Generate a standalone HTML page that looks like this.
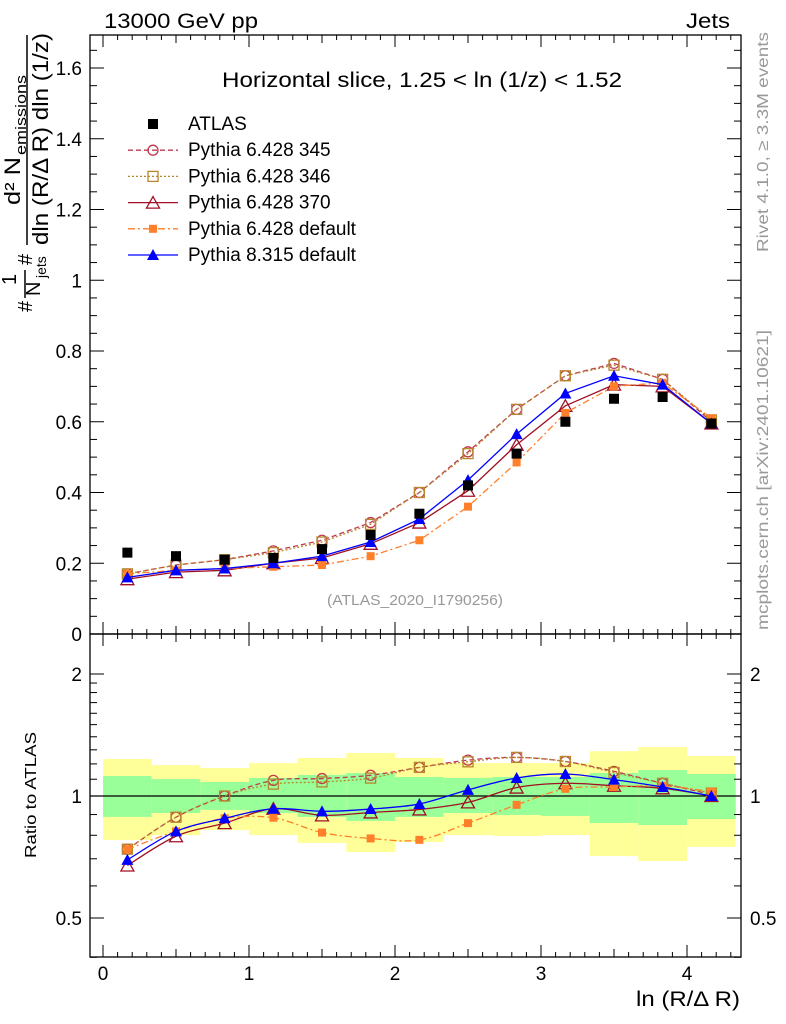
<!DOCTYPE html>
<html><head><meta charset="utf-8"><style>
body{margin:0;background:#fff}
svg{display:block;font-family:"Liberation Sans",sans-serif}
</style></head><body>
<svg id="chart" width="786" height="1024" viewBox="0 0 786 1024" xmlns="http://www.w3.org/2000/svg">
<g id="bands"></g>
<g id="marks"></g>
<g id="axes"></g>
<text x="104" y="28" font-size="21" textLength="154" lengthAdjust="spacingAndGlyphs">13000 GeV pp</text>
<text x="686" y="28" font-size="21" textLength="44" lengthAdjust="spacingAndGlyphs">Jets</text>
<text x="222" y="87" font-size="21" textLength="400" lengthAdjust="spacingAndGlyphs">Horizontal slice, 1.25 &lt; ln (1/z) &lt; 1.52</text>
<text x="327" y="605" font-size="15" fill="#999" textLength="176" lengthAdjust="spacingAndGlyphs">(ATLAS_2020_I1790256)</text>
<text transform="translate(768,252) rotate(-90)" font-size="16" fill="#999" textLength="220" lengthAdjust="spacingAndGlyphs">Rivet 4.1.0, ≥ 3.3M events</text>
<text transform="translate(768,630) rotate(-90)" font-size="16" fill="#999" textLength="300" lengthAdjust="spacingAndGlyphs">mcplots.cern.ch [arXiv:2401.10621]</text>
<g transform="rotate(-90)">
<text x="-205" y="20" font-size="22" textLength="48" lengthAdjust="spacingAndGlyphs">d² N</text>
<text x="-155" y="26" font-size="15" textLength="80" lengthAdjust="spacingAndGlyphs">emissions</text>
<line x1="-35" y1="27" x2="-245" y2="27" stroke="#000" stroke-width="1.5"/>
<text x="-245" y="48" font-size="22" textLength="212" lengthAdjust="spacingAndGlyphs">dln (R/Δ R) dln (1/z)</text>
<text x="-265" y="32" font-size="20">#</text>
<text x="-285" y="16" font-size="20">1</text>
<line x1="-270" y1="25" x2="-298" y2="25" stroke="#000" stroke-width="1.5"/>
<text x="-296" y="40" font-size="20">N</text>
<text x="-278" y="46" font-size="14">jets</text>
<text x="-312" y="32" font-size="20">#</text>
</g>
<text transform="translate(36,795) rotate(-90)" font-size="16" text-anchor="middle" textLength="126" lengthAdjust="spacingAndGlyphs">Ratio to ATLAS</text>
<text x="636" y="1006" font-size="21" textLength="104" lengthAdjust="spacingAndGlyphs">ln (R/Δ R)</text>
<g id="legend"></g>
</svg>
<script>
const xCenters=[0.167,0.5,0.833,1.167,1.5,1.833,2.167,2.5,2.833,3.167,3.5,3.833,4.167];
const atlas=[0.23,0.22,0.21,0.215,0.24,0.28,0.34,0.42,0.51,0.60,0.665,0.67,0.595];
const py345=[0.17,0.195,0.21,0.235,0.265,0.315,0.40,0.515,0.635,0.73,0.765,0.72,0.60];
const py346=[0.17,0.195,0.21,0.23,0.26,0.31,0.40,0.51,0.635,0.73,0.76,0.72,0.605];
const py370=[0.155,0.175,0.18,0.20,0.215,0.255,0.315,0.405,0.535,0.645,0.705,0.70,0.595];
const py6def=[0.17,0.18,0.185,0.19,0.195,0.22,0.265,0.36,0.485,0.625,0.70,0.71,0.61];
const py8def=[0.16,0.18,0.185,0.20,0.22,0.26,0.325,0.435,0.565,0.68,0.73,0.705,0.595];
const yellowHi=[1.234,1.192,1.172,1.206,1.241,1.277,1.241,1.206,1.206,1.206,1.29,1.32,1.255];
const yellowLo=[0.779,0.801,0.824,0.801,0.766,0.727,0.770,0.801,0.797,0.801,0.711,0.691,0.749];
const greenHi=[1.12,1.101,1.083,1.108,1.127,1.139,1.114,1.108,1.114,1.114,1.139,1.159,1.133];
const greenLo=[0.888,0.908,0.924,0.908,0.888,0.868,0.888,0.908,0.898,0.893,0.858,0.848,0.877];
const binHalf=1/6;
const xTicks=[0,1,2,3,4];
const yTicks=[0,0.2,0.4,0.6,0.8,1,1.2,1.4,1.6];
const rTicks=[0.5,1,2];

const NS="http://www.w3.org/2000/svg";
const L=90,R=741,T=35,MB=634,RB=957;
const X=v=>103+146*v;
const Y=v=>634-353.75*v;
const RY=v=>796-122*Math.log2(v);
function mk(tag,attrs,parent){const e=document.createElementNS(NS,tag);for(const k in attrs)e.setAttribute(k,attrs[k]);parent.appendChild(e);return e;}
const bands=document.getElementById('bands'),marks=document.getElementById('marks'),axes=document.getElementById('axes'),legend=document.getElementById('legend');

xCenters.forEach((c,i)=>{
 const y=mk('rect',{x:X(c-binHalf),y:RY(yellowHi[i]),width:X(c+binHalf)-X(c-binHalf),height:RY(yellowLo[i])-RY(yellowHi[i]),fill:'#ffff99'},bands);
 
 
 const g=mk('rect',{x:X(c-binHalf),y:RY(greenHi[i]),width:X(c+binHalf)-X(c-binHalf),height:RY(greenLo[i])-RY(greenHi[i]),fill:'#99ff99'},bands);
 
 
});
mk('line',{x1:L,x2:R,y1:RY(1),y2:RY(1),stroke:'#000','stroke-width':1.2},bands);

function marker(type,color,x,y,p,sz){
 sz=sz||5;
 let e;
 if(type==='sq') e=mk('rect',{x:x-sz,y:y-sz,width:2*sz,height:2*sz,fill:color},p);
 else if(type==='sqo') e=mk('rect',{x:x-sz,y:y-sz,width:2*sz,height:2*sz,fill:'none',stroke:color,'stroke-width':1.3},p);
 else if(type==='ci') e=mk('circle',{cx:x,cy:y,r:sz,fill:'none',stroke:color,'stroke-width':1.3},p);
 else if(type==='tri') e=mk('path',{d:`M${x},${y-sz-1}L${x+sz+1},${y+sz}L${x-sz-1},${y+sz}Z`,fill:color},p);
 else e=mk('path',{d:`M${x},${y-sz-1}L${x+sz+1.5},${y+sz+0.5}L${x-sz-1.5},${y+sz+0.5}Z`,fill:'none',stroke:color,'stroke-width':1.3},p);
 
 
}
function straight(pts){return 'M'+pts.map(p=>p[0]+','+p[1]).join('L');}
function smooth(pts){
 let d=`M${pts[0][0]},${pts[0][1]}`;
 for(let i=0;i<pts.length-1;i++){
  const p0=pts[i-1]||pts[i],p1=pts[i],p2=pts[i+1],p3=pts[i+2]||p2;
  d+=`C${p1[0]+(p2[0]-p0[0])/6},${p1[1]+(p2[1]-p0[1])/6} ${p2[0]-(p3[0]-p1[0])/6},${p2[1]-(p3[1]-p1[1])/6} ${p2[0]},${p2[1]}`;
 }
 return d;
}
const series=[
 {name:'Pythia 6.428 345',vals:py345,color:'#c0394f',dash:'5,3',m:'ci'},
 {name:'Pythia 6.428 346',vals:py346,color:'#b8862e',dash:'2,2',m:'sqo'},
 {name:'Pythia 6.428 370',vals:py370,color:'#a01025',dash:'',m:'trio'},
 {name:'Pythia 6.428 default',vals:py6def,color:'#ff7f2a',dash:'7,3,2,3',m:'sq'},
 {name:'Pythia 8.315 default',vals:py8def,color:'#0000ff',dash:'',m:'tri'}
];
series.forEach(s=>{
 const main=xCenters.map((c,i)=>[X(c),Y(s.vals[i])]);
 const ln=mk('path',{d:straight(main),fill:'none',stroke:s.color,'stroke-width':1.3,'stroke-dasharray':s.dash},marks);
 
 
 main.forEach(p=>marker(s.m,s.color,p[0],p[1],marks,s.m==='sq'?4:5));
 const rat=xCenters.map((c,i)=>[X(c),RY(s.vals[i]/atlas[i])]);
 const rl=mk('path',{d:smooth(rat),fill:'none',stroke:s.color,'stroke-width':1.3,'stroke-dasharray':s.dash},marks);
 
 
 rat.forEach(p=>marker(s.m,s.color,p[0],p[1],marks,s.m==='sq'?4:5));
});
xCenters.forEach((c,i)=>marker('sq','#000',X(c),Y(atlas[i]),marks,5));

[[T,MB],[MB,RB]].forEach(([a,b])=>{
 const f=mk('rect',{x:L,y:a,width:R-L,height:b-a,fill:'none',stroke:'#000','stroke-width':1.3},axes);
 
 
});
for(let k=0;k<=43;k++){
 const vv=k/10, x=X(vv);
 const len=k%10===0?12:(k%5===0?8:5);
 [[T,1],[MB,-1],[MB,1],[RB,-1]].forEach(([y0,d])=>mk('line',{x1:x,x2:x,y1:y0,y2:y0+d*len,stroke:'#000'},axes));
}
xTicks.forEach(v=>{const t=mk('text',{x:X(v),y:980,'font-size':19,'text-anchor':'middle'},axes);t.textContent=v;
 });
for(let k=0;k<=33;k++){
 const v=k*0.05,y=Y(v);if(y<T)break;
 const len=k%4===0?14:7;
 mk('line',{x1:L,x2:L+len,y1:y,y2:y,stroke:'#000'},axes);
 mk('line',{x1:R,x2:R-len,y1:y,y2:y,stroke:'#000'},axes);
}
yTicks.forEach(v=>{const t=mk('text',{x:82,y:Y(v)+7,'font-size':19,'text-anchor':'end'},axes);t.textContent=(v===0||v===1)?String(v):v.toFixed(1);
 });
[0.4,0.5,0.6,0.7,0.8,0.9,1,1.1,1.2,1.3,1.4,1.5,1.6,1.7,1.8,1.9,2].forEach(v=>{
 const y=RY(v);const len=(v===0.5||v===1||v===2)?14:7;
 mk('line',{x1:L,x2:L+len,y1:y,y2:y,stroke:'#000'},axes);
 mk('line',{x1:R,x2:R-len,y1:y,y2:y,stroke:'#000'},axes);
});
rTicks.forEach(v=>{
 const t=mk('text',{x:82,y:RY(v)+7,'font-size':19,'text-anchor':'end'},axes);t.textContent=v;
 
 const t2=mk('text',{x:750,y:RY(v)+7,'font-size':19},axes);t2.textContent=v;
 
});
const lg=[{name:'ATLAS',m:'sq',color:'#000',dash:null}].concat(series);
lg.forEach((s,i)=>{
 const y=124+i*26.2;
 const g=mk('g',{},legend);
 
 
 if(s.dash!==null) mk('line',{x1:128,x2:178,y1:y,y2:y,stroke:s.color,'stroke-width':1.3,'stroke-dasharray':s.dash},g);
 marker(s.m,s.color,153,y,g,s.m==='sq'&&i>0?4:5);
 const t=mk('text',{x:188,y:y+6,'font-size':19},g);t.textContent=s.name;
});
</script>
</body></html>
